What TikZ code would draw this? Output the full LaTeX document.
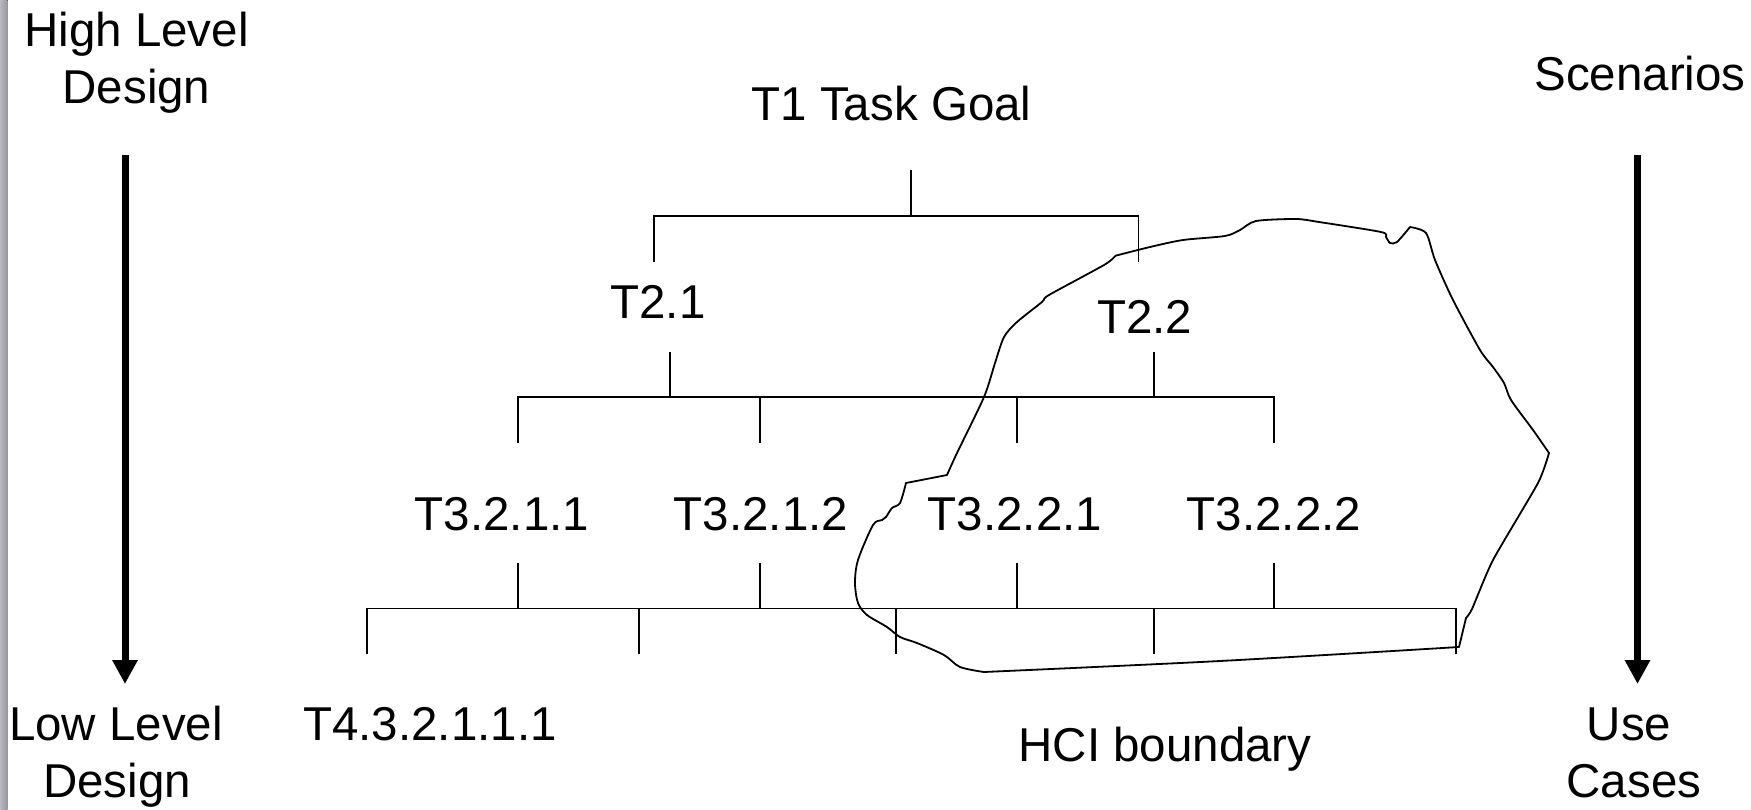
\documentclass[tikz,border=0pt]{standalone}
\usepackage{fontspec}
\setmainfont{Liberation Sans}
\usetikzlibrary{arrows.meta}
\begin{document}
\begin{tikzpicture}[x=1pt,y=-1pt,
  lbl/.style={anchor=base, inner sep=0pt, font=\fontsize{47.5}{57}\selectfont},
  tree/.style={line width=1.8pt},
  bigarrow/.style={line width=7pt, -{Triangle[width=24pt,length=24pt]}},
  blob/.style={line width=1.8pt, line join=round}]
\useasboundingbox (0,0) rectangle (1751,809);
\fill[left color={rgb,255:red,184;green,184;blue,190}, right color={rgb,255:red,150;green,150;blue,158}] (0,0) rectangle (7.5,809);

% side labels
\node[lbl] (hl1) at (136.5,46.7) {High Level};
\node[lbl] (hl2) at (136.5,103) {Design};
\node[lbl] (ll1) at (116,740) {Low Level};
\node[lbl] (ll2) at (117,797) {Design};
\node[lbl] (sc) at (1640,90.7) {Scenarios};
\node[lbl] (uc1) at (1629,740) {Use};
\node[lbl] (uc2) at (1634,797) {Cases};

% side arrows
\coordinate (la1) at (125,155);
\coordinate (la2) at (125,684);
\coordinate (ra1) at (1637.5,155);
\coordinate (ra2) at (1637.5,684);
\draw[bigarrow] (la1) -- (la2);
\draw[bigarrow] (ra1) -- (ra2);

% tree labels
\node[lbl] (t1) at (891.5,120.7) {T1 Task Goal};
\node[lbl] (t21) at (658,318.3) {T2.1};
\node[lbl] (t22) at (1144.6,333) {T2.2};
\node[lbl] (t3211) at (502,530) {T3.2.1.1};
\node[lbl] (t3212) at (761,530) {T3.2.1.2};
\node[lbl] (t3221) at (1015,530) {T3.2.2.1};
\node[lbl] (t3222) at (1274,530) {T3.2.2.2};
\node[lbl] (t4) at (430,740) {T4.3.2.1.1.1};
\node[lbl] (hci) at (1165,761) {HCI boundary};

% level 1
\coordinate (s1a) at (911,170);
\coordinate (s1b) at (911,215.7);
\coordinate (b1l) at (654,215.7);
\coordinate (b1r) at (1138.5,215.7);
\coordinate (d1l) at (654,261.7);
\coordinate (d1r) at (1138.5,261.7);
\draw[tree] (s1a) -- (s1b);
\draw[tree] (d1l) -- (b1l) -- (b1r) -- (d1r);

% level 2
\coordinate (s21a) at (669.6,351.7);
\coordinate (s21b) at (669.6,397);
\coordinate (s22a) at (1153.6,351.7);
\coordinate (s22b) at (1153.6,397);
\draw[tree] (s21a) -- (s21b);
\draw[tree] (s22a) -- (s22b);
\coordinate (b2l) at (517.6,397);
\coordinate (b2r) at (1274,397);
\draw[tree] (517.6,443) -- (b2l) -- (b2r) -- (1274,443);
\foreach \x in {760.3,1017} \draw[tree] (\x,397) -- (\x,443);

% level 3
\foreach \x in {517.6,760.3,1017,1274} \draw[tree] (\x,563) -- (\x,608.5);
\coordinate (b3l) at (367,608.5);
\coordinate (b3r) at (1456,608.5);
\draw[tree] (367,654) -- (b3l) -- (b3r) -- (1456,654);
\foreach \x in {639,896,1153.6} \draw[tree] (\x,608.5) -- (\x,654);

% HCI boundary outline
\draw[blob]
  plot[smooth, tension=0.45] coordinates {
    (1115.6,255.7) (1150,247) (1183,240) (1225,236) (1240,230) (1256,221)
    (1296,219) (1319,222) (1381,232) (1386,237) (1390,243) (1397,242) (1410,227)}
  -- plot[smooth, tension=0.45] coordinates {
    (1410,227) (1426,233) (1435,260) (1453,300) (1480,350) (1493,367)
    (1504,383) (1511,400) (1533,430) (1549,453)}
  -- plot[smooth, tension=0.35] coordinates {
    (1549,453) (1538,483) (1493,560) (1472,609) (1466,618)}
  -- (1459,647)
  -- plot[smooth, tension=0.5] coordinates {(1459,647) (1220,661) (984,672)}
  -- plot[smooth, tension=0.5] coordinates {
    (984,672) (960,667) (944,655) (917,643) (900,637) (887,627) (867,615)
    (858,603) (855,583) (858,560) (873,525) (882,520) (886,517) (892,508)
    (900,503) (906,483)}
  -- (947,475)
  -- plot[smooth, tension=0.45] coordinates {
    (947,475) (957,453) (984,397) (995,363) (1004,337) (1017,322)
    (1042,302) (1049,295) (1104,265) (1115.6,255.7)}
  -- cycle;
\end{tikzpicture}
\end{document}
